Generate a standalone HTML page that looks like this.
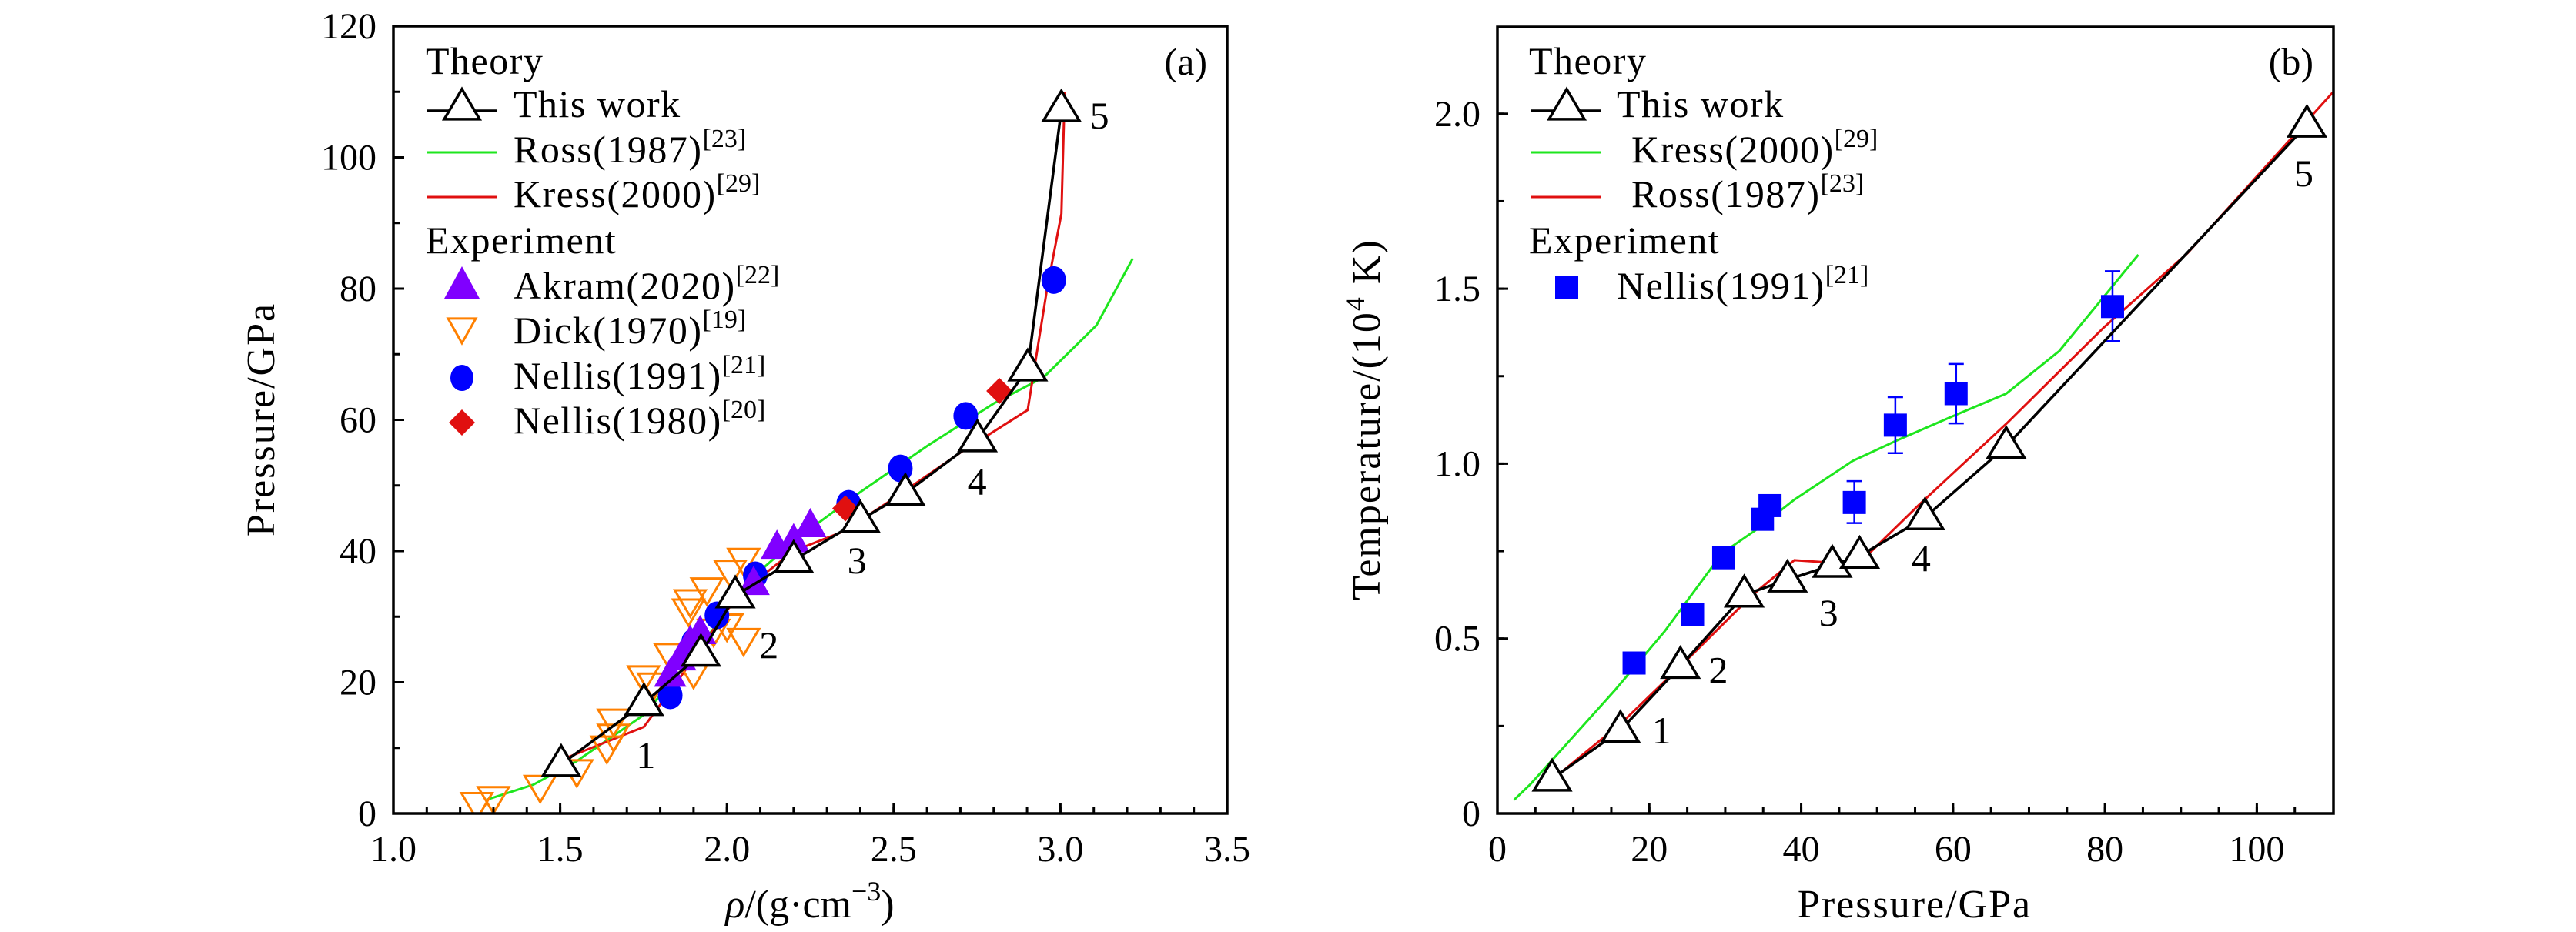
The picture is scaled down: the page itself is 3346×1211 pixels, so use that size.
<!DOCTYPE html>
<html><head><meta charset="utf-8"><style>
html,body{margin:0;padding:0;background:#fff;}
svg{display:block;font-family:"Liberation Serif",serif;}
text{fill:#000;}
</style></head><body>
<svg id="fig" width="3346" height="1211" viewBox="0 0 3346 1211" xmlns="http://www.w3.org/2000/svg">
<defs>
<clipPath id="clipA"><rect x="511" y="34" width="1083" height="1023"/></clipPath>
<clipPath id="clipB"><rect x="1945" y="35" width="1086" height="1022"/></clipPath>
</defs>
<g id="panelA"></g>
<g id="panelB"></g>
</svg>
<script>
// ---------- Panel (a) data ----------
const aThisX = [1.503,1.751,1.922,2.025,2.20,2.40,2.535,2.751,2.902,3.003];
const aThisY = [7.5,16.8,24.3,33.2,38.6,44.7,48.8,57.0,67.8,107.3];
const aRossX = [1.28,1.42,1.55,1.75,1.90,2.00,2.10,2.20,2.40,2.60,2.80,2.95,3.108,3.217];
const aRossY = [2.1,4.4,8.0,15.0,24.0,31.0,37.0,41.5,49.0,56.0,62.5,66.5,74.4,84.6];
const aKressX = [1.52,1.751,1.85,2.00,2.10,2.20,2.35,2.50,2.70,2.902,2.96,3.003,3.013];
const aKressY = [8.5,13.2,20.0,31.0,36.0,40.0,43.0,48.0,55.0,61.5,80.0,91.4,110.0];
const aAkramX = [1.83,1.86,1.89,1.92,2.08,2.15,2.20,2.25];
const aAkramY = [21.0,23.5,26.0,27.5,35.0,40.5,41.5,43.8];
const aDickX = [1.25,1.30,1.44,1.55,1.64,1.66,1.66,1.75,1.78,1.83,1.90,1.885,1.89,1.94,2.01,2.05,1.96,2.00,2.05];
const aDickY = [1.6,2.5,4.2,6.6,10.2,12.0,14.3,20.9,19.8,24.3,21.6,31.1,32.5,34.3,37.0,38.8,28.0,28.8,26.6];
const aN91X = [1.83,1.90,1.97,2.085,2.365,2.52,2.716,2.98];
const aN91Y = [18.0,26.1,30.2,36.3,47.2,52.6,60.6,81.3];
const aN80X = [2.355,2.817];
const aN80Y = [46.5,64.4];
const aLabelText = ["1","2","3","4","5"];
const aLabelX = [1.757,2.126,2.39,2.75,3.117];
const aLabelY = [8.9,25.7,38.6,50.6,106.4];
const aXTicks = [1.0,1.5,2.0,2.5,3.0,3.5];
const aXTickLabels = ["1.0","1.5","2.0","2.5","3.0","3.5"];
const aYTicks = [0,20,40,60,80,100,120];
const aYTickLabels = ["0","20","40","60","80","100","120"];

// ---------- Panel (b) data ----------
const bThisX = [7.2,16.2,24.1,32.5,38.2,44.1,47.7,56.3,67.0,106.6];
const bThisY = [0.099,0.238,0.421,0.625,0.668,0.71,0.736,0.846,1.05,1.968];
const bKressX = [2.2,4.4,15.5,22.0,29.6,34.0,39.1,46.8,52.7,59.9,67.0,74.0,84.4];
const bKressY = [0.039,0.085,0.353,0.52,0.744,0.81,0.897,1.008,1.067,1.135,1.2,1.322,1.597];
const bRossX = [7.8,16.4,25.0,33.6,39.1,45.4,48.6,55.4,67.2,79.9,90.9,110.0];
const bRossY = [0.107,0.26,0.44,0.625,0.724,0.715,0.736,0.88,1.118,1.39,1.602,2.061];
const bN91X = [18.0,25.7,29.8,34.9,35.9,47.0,52.4,60.4,81.0];
const bN91Y = [0.43,0.569,0.731,0.841,0.88,0.889,1.11,1.2,1.449];
const bErrX = [47.0,52.4,60.4,81.0];
const bErrLo = [0.83,1.03,1.115,1.35];
const bErrHi = [0.95,1.19,1.285,1.55];
const bLabelText = ["1","2","3","4","5"];
const bLabelX = [21.6,29.1,43.6,55.8,106.2];
const bLabelY = [0.238,0.41,0.574,0.73,1.83];
const bXTicks = [0,20,40,60,80,100];
const bXTickLabels = ["0","20","40","60","80","100"];
const bYTicks = [0,0.5,1.0,1.5,2.0];
const bYTickLabels = ["0","0.5","1.0","1.5","2.0"];

const NS = "http://www.w3.org/2000/svg";
const GREEN = "#1ee61e", RED = "#e01010", PURPLE = "#8000ff", ORANGE = "#ff8000", BLUE = "#0000ff";

// axis functions
const aX = v => 511 + (v - 1.0) * 433.2;
const aY = v => 1057 - v * 8.525;
const bX = v => 1945 + v * 9.864;
const bY = v => 1057 - v * 454.6;

function mk(tag, attrs, parent) {
  const el = document.createElementNS(NS, tag);
  for (const k in attrs) el.setAttribute(k, attrs[k]);
  parent.appendChild(el);
  return el;
}
function polyPts(xs, ys, fx, fy) {
  return xs.map((x, i) => fx(x).toFixed(1) + "," + fy(ys[i]).toFixed(1)).join(" ");
}
function triUp(cx, cy, w, h) {
  return `${cx},${cy - h * 0.62} ${cx - w / 2},${cy + h * 0.38} ${cx + w / 2},${cy + h * 0.38}`;
}
function triDown(cx, cy, w, h) {
  return `${cx},${cy + h * 0.62} ${cx - w / 2},${cy - h * 0.38} ${cx + w / 2},${cy - h * 0.38}`;
}
function addText(parent, x, y, str, size, anchor) {
  const t = mk("text", {x: x, y: y, "font-size": size, "text-anchor": anchor || "start"}, parent);
  t.textContent = str;
  return t;
}

function drawFrame(g, L, T, R, B) {
  const f = mk("rect", {x: L, y: T, width: R - L, height: B - T, fill: "none", stroke: "#000", "stroke-width": 3.5}, g);
  
  
}

function drawXTicks(g, fx, B, ticks, labels, minorStart, minorEnd, minorStep) {
  for (let v = minorStart; v <= minorEnd + 1e-9; v += minorStep) {
    const x = fx(v);
    const m = mk("line", {x1: x, y1: B, x2: x, y2: B - 8, stroke: "#000", "stroke-width": 3}, g);
    
    
  }
  ticks.forEach((v, i) => {
    const x = fx(v);
    const t = mk("line", {x1: x, y1: B, x2: x, y2: B - 14, stroke: "#000", "stroke-width": 3}, g);
    
    
    const lb = addText(g, x, B + 62, labels[i], 48, "middle");
    
    
  });
}
function drawYTicks(g, fy, L, ticks, labels, minorStart, minorEnd, minorStep) {
  for (let v = minorStart; v <= minorEnd + 1e-9; v += minorStep) {
    const y = fy(v);
    const m = mk("line", {x1: L, y1: y, x2: L + 8, y2: y, stroke: "#000", "stroke-width": 3}, g);
    
    
  }
  ticks.forEach((v, i) => {
    const y = fy(v);
    const t = mk("line", {x1: L, y1: y, x2: L + 14, y2: y, stroke: "#000", "stroke-width": 3}, g);
    
    
    const lb = addText(g, L - 22, y + 16, labels[i], 48, "end");
    
    
  });
}

function legendText(g, x, y, main, sup) {
  const t = mk("text", {x: x, y: y, "font-size": 50, "letter-spacing": 1.5}, g);
  const a = document.createElementNS(NS, "tspan");
  a.textContent = main;
  t.appendChild(a);
  if (sup) {
    const s = document.createElementNS(NS, "tspan");
    s.setAttribute("font-size", "34");
    s.setAttribute("dy", "-20");
    s.setAttribute("letter-spacing", "0");
    s.textContent = sup;
    t.appendChild(s);
  }
  return t;
}

// ================= PANEL A =================
(function () {
  const g = document.getElementById("panelA");
  const L = 511, T = 34, R = 1594, B = 1057;
  const data = mk("g", {"clip-path": "url(#clipA)"}, g);

  const ross = mk("polyline", {points: polyPts(aRossX, aRossY, aX, aY), fill: "none", stroke: GREEN, "stroke-width": 3}, data);
  
  
  const kress = mk("polyline", {points: polyPts(aKressX, aKressY, aX, aY), fill: "none", stroke: RED, "stroke-width": 3}, data);
  
  

  aDickX.forEach((x, i) => {
    const p = mk("polygon", {points: triDown(aX(x), aY(aDickY[i]), 40, 34), fill: "none", stroke: ORANGE, "stroke-width": 3}, data);
    
    
  });
  aN91X.forEach((x, i) => {
    const c = mk("ellipse", {cx: aX(x), cy: aY(aN91Y[i]), rx: 16, ry: 18, fill: BLUE}, data);
    
    
  });
  aN80X.forEach((x, i) => {
    const cx = aX(x), cy = aY(aN80Y[i]);
    const d = mk("polygon", {points: `${cx},${cy - 17} ${cx + 17},${cy} ${cx},${cy + 17} ${cx - 17},${cy}`, fill: RED}, data);
    
    
  });
  aAkramX.forEach((x, i) => {
    const p = mk("polygon", {points: triUp(aX(x), aY(aAkramY[i]), 42, 38), fill: PURPLE}, data);
    
    
  });

  const tw = mk("polyline", {points: polyPts(aThisX, aThisY, aX, aY), fill: "none", stroke: "#000", "stroke-width": 3.5}, data);
  
  
  aThisX.forEach((x, i) => {
    const p = mk("polygon", {points: triUp(aX(x), aY(aThisY[i]), 47, 39), fill: "#fff", stroke: "#000", "stroke-width": 3.5}, g);
    
    
  });
  aLabelText.forEach((s, i) => {
    const t = addText(g, aX(aLabelX[i]), aY(aLabelY[i]) + 17, s, 50, "middle");
    
    
  });

  drawFrame(g, L, T, R, B);
  drawXTicks(g, aX, B, aXTicks, aXTickLabels, 1.1, 3.4, 0.1);
  drawYTicks(g, aY, L, aYTicks, aYTickLabels, 10, 110, 10);

  const pl = addText(g, 1568, 97, "(a)", 50, "end");
  
  

  const yt = mk("text", {x: 0, y: 0, "font-size": 52, "text-anchor": "middle", "letter-spacing": 2, transform: "translate(356,545) rotate(-90)"}, g);
  yt.textContent = "Pressure/GPa";
  
  

  const xt = mk("text", {x: 1052, y: 1192, "font-size": 52, "text-anchor": "middle"}, g);
  const r1 = document.createElementNS(NS, "tspan"); r1.setAttribute("font-style", "italic"); r1.textContent = "ρ"; xt.appendChild(r1);
  const r2 = document.createElementNS(NS, "tspan"); r2.textContent = "/(g·cm"; xt.appendChild(r2);
  const r3 = document.createElementNS(NS, "tspan"); r3.setAttribute("font-size", "36"); r3.setAttribute("dy", "-22"); r3.textContent = "−3"; xt.appendChild(r3);
  const r4 = document.createElementNS(NS, "tspan"); r4.setAttribute("dy", "22"); r4.textContent = ")"; xt.appendChild(r4);
  
  

  // legend
  const lg = mk("g", {}, g);
  
  
  const rows = [96, 152, 211, 269, 329, 388, 446, 505, 563];
  const tx = 667, lx1 = 555, lx2 = 646, mx = 600;
  let t;
  t = legendText(lg, 553, rows[0], "Theory");  
  let e = mk("line", {x1: lx1, y1: rows[1] - 8, x2: lx2, y2: rows[1] - 8, stroke: "#000", "stroke-width": 3.5}, lg);
   
  e = mk("polygon", {points: triUp(mx, rows[1] - 12, 46, 39), fill: "#fff", stroke: "#000", "stroke-width": 3.5}, lg);
   
  t = legendText(lg, tx, rows[1], "This work");  
  e = mk("line", {x1: lx1, y1: rows[2] - 13, x2: lx2, y2: rows[2] - 13, stroke: GREEN, "stroke-width": 3}, lg);
   
  t = legendText(lg, tx, rows[2], "Ross(1987)", "[23]");  
  e = mk("line", {x1: lx1, y1: rows[3] - 13, x2: lx2, y2: rows[3] - 13, stroke: RED, "stroke-width": 3}, lg);
   
  t = legendText(lg, tx, rows[3], "Kress(2000)", "[29]");  
  t = legendText(lg, 553, rows[4], "Experiment");  
  e = mk("polygon", {points: triUp(mx, rows[5] - 16, 46, 42), fill: PURPLE}, lg);
   
  t = legendText(lg, tx, rows[5], "Akram(2020)", "[22]");  
  e = mk("polygon", {points: triDown(mx, rows[6] - 20, 36, 32), fill: "none", stroke: ORANGE, "stroke-width": 3}, lg);
   
  t = legendText(lg, tx, rows[6], "Dick(1970)", "[19]");  
  e = mk("ellipse", {cx: mx, cy: rows[7] - 14, rx: 15, ry: 17, fill: BLUE}, lg);
   
  t = legendText(lg, tx, rows[7], "Nellis(1991)", "[21]");  
  e = mk("polygon", {points: `${mx},${rows[8] - 31} ${mx + 17},${rows[8] - 14} ${mx},${rows[8] + 3} ${mx - 17},${rows[8] - 14}`, fill: RED}, lg);
   
  t = legendText(lg, tx, rows[8], "Nellis(1980)", "[20]");  
})();

// ================= PANEL B =================
(function () {
  const g = document.getElementById("panelB");
  const L = 1945, T = 35, R = 3031, B = 1057;
  const data = mk("g", {"clip-path": "url(#clipB)"}, g);

  const kress = mk("polyline", {points: polyPts(bKressX, bKressY, bX, bY), fill: "none", stroke: GREEN, "stroke-width": 3}, data);
  
  
  const ross = mk("polyline", {points: polyPts(bRossX, bRossY, bX, bY), fill: "none", stroke: RED, "stroke-width": 3}, data);
  
  

  bErrX.forEach((x, i) => {
    const cx = bX(x), y1 = bY(bErrLo[i]), y2 = bY(bErrHi[i]);
    const eb = mk("path", {d: `M${cx},${y1}V${y2}M${cx - 10},${y1}H${cx + 10}M${cx - 10},${y2}H${cx + 10}`, stroke: BLUE, "stroke-width": 2.5, fill: "none"}, data);
    
    
  });
  bN91X.forEach((x, i) => {
    const s = mk("rect", {x: bX(x) - 15, y: bY(bN91Y[i]) - 15, width: 30, height: 30, fill: BLUE}, data);
    
    
  });

  const tw = mk("polyline", {points: polyPts(bThisX, bThisY, bX, bY), fill: "none", stroke: "#000", "stroke-width": 3.5}, data);
  
  
  bThisX.forEach((x, i) => {
    const p = mk("polygon", {points: triUp(bX(x), bY(bThisY[i]), 47, 39), fill: "#fff", stroke: "#000", "stroke-width": 3.5}, g);
    
    
  });
  bLabelText.forEach((s, i) => {
    const t = addText(g, bX(bLabelX[i]), bY(bLabelY[i]) + 17, s, 50, "middle");
    
    
  });

  drawFrame(g, L, T, R, B);
  drawXTicks(g, bX, B, bXTicks, bXTickLabels, 5, 105, 5);
  drawYTicks(g, bY, L, bYTicks, bYTickLabels, 0.25, 2.0, 0.25);

  const pl = addText(g, 3005, 97, "(b)", 50, "end");
  
  

  const yt = mk("text", {x: 0, y: 0, "font-size": 52, "text-anchor": "middle", "letter-spacing": 2, transform: "translate(1792,545) rotate(-90)"}, g);
  const y1 = document.createElementNS(NS, "tspan"); y1.textContent = "Temperature/(10"; yt.appendChild(y1);
  const y2 = document.createElementNS(NS, "tspan"); y2.setAttribute("font-size", "36"); y2.setAttribute("dy", "-20"); y2.textContent = "4"; yt.appendChild(y2);
  const y3 = document.createElementNS(NS, "tspan"); y3.setAttribute("dy", "20"); y3.textContent = " K)"; yt.appendChild(y3);
  
  

  const xt = addText(g, 2487, 1192, "Pressure/GPa", 52, "middle");
  xt.setAttribute("letter-spacing", "2");
  
  

  const lg = mk("g", {}, g);
  
  
  const rows = [96, 152, 211, 269, 329, 388];
  const lx1 = 1989, lx2 = 2080, mx = 2035;
  let t, e;
  t = legendText(lg, 1986, rows[0], "Theory");  
  e = mk("line", {x1: lx1, y1: rows[1] - 8, x2: lx2, y2: rows[1] - 8, stroke: "#000", "stroke-width": 3.5}, lg);
   
  e = mk("polygon", {points: triUp(mx, rows[1] - 12, 46, 39), fill: "#fff", stroke: "#000", "stroke-width": 3.5}, lg);
   
  t = legendText(lg, 2100, rows[1], "This work");  
  e = mk("line", {x1: lx1, y1: rows[2] - 13, x2: lx2, y2: rows[2] - 13, stroke: GREEN, "stroke-width": 3}, lg);
   
  t = legendText(lg, 2119, rows[2], "Kress(2000)", "[29]");  
  e = mk("line", {x1: lx1, y1: rows[3] - 13, x2: lx2, y2: rows[3] - 13, stroke: RED, "stroke-width": 3}, lg);
   
  t = legendText(lg, 2119, rows[3], "Ross(1987)", "[23]");  
  t = legendText(lg, 1986, rows[4], "Experiment");  
  e = mk("rect", {x: mx - 15, y: rows[5] - 30, width: 30, height: 30, fill: BLUE}, lg);
   
  t = legendText(lg, 2100, rows[5], "Nellis(1991)", "[21]");  
})();
</script>
</body></html>
